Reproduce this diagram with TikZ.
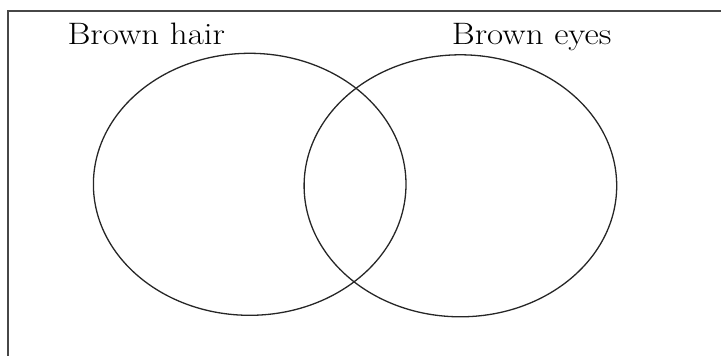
\documentclass[tikz,border=0pt]{standalone}
\usetikzlibrary{shapes.geometric}
\begin{document}
\begin{tikzpicture}[x=1pt,y=-1pt,
  frameline/.style={draw=black!72,line width=2pt},
  setring/.style={ellipse,draw=black!85,line width=1.3pt,inner sep=0pt,
    minimum width=312.6pt,minimum height=262pt},
  setlabel/.style={anchor=base west,inner sep=0pt,font=\fontsize{31}{36}\selectfont}]
\useasboundingbox (0,0) rectangle (721,356);
\coordinate (fbl) at (8.3,356);
\coordinate (ftl) at (8.3,11.2);
\coordinate (ftr) at (721,11.2);
\draw[frameline] (fbl) -- (ftl) -- (ftr);
\node[setring] (hair) at (249.7,184.3) {};
\node[setring] (eyes) at (460.4,185.8) {};
\node[setlabel] (hairlabel) at (67.3,44.3) {\scalebox{1.13}[1]{Brown hair}};
\node[setlabel] (eyeslabel) at (451.7,44.3) {\scalebox{1.13}[1]{Brown eyes}};
\end{tikzpicture}
\end{document}
